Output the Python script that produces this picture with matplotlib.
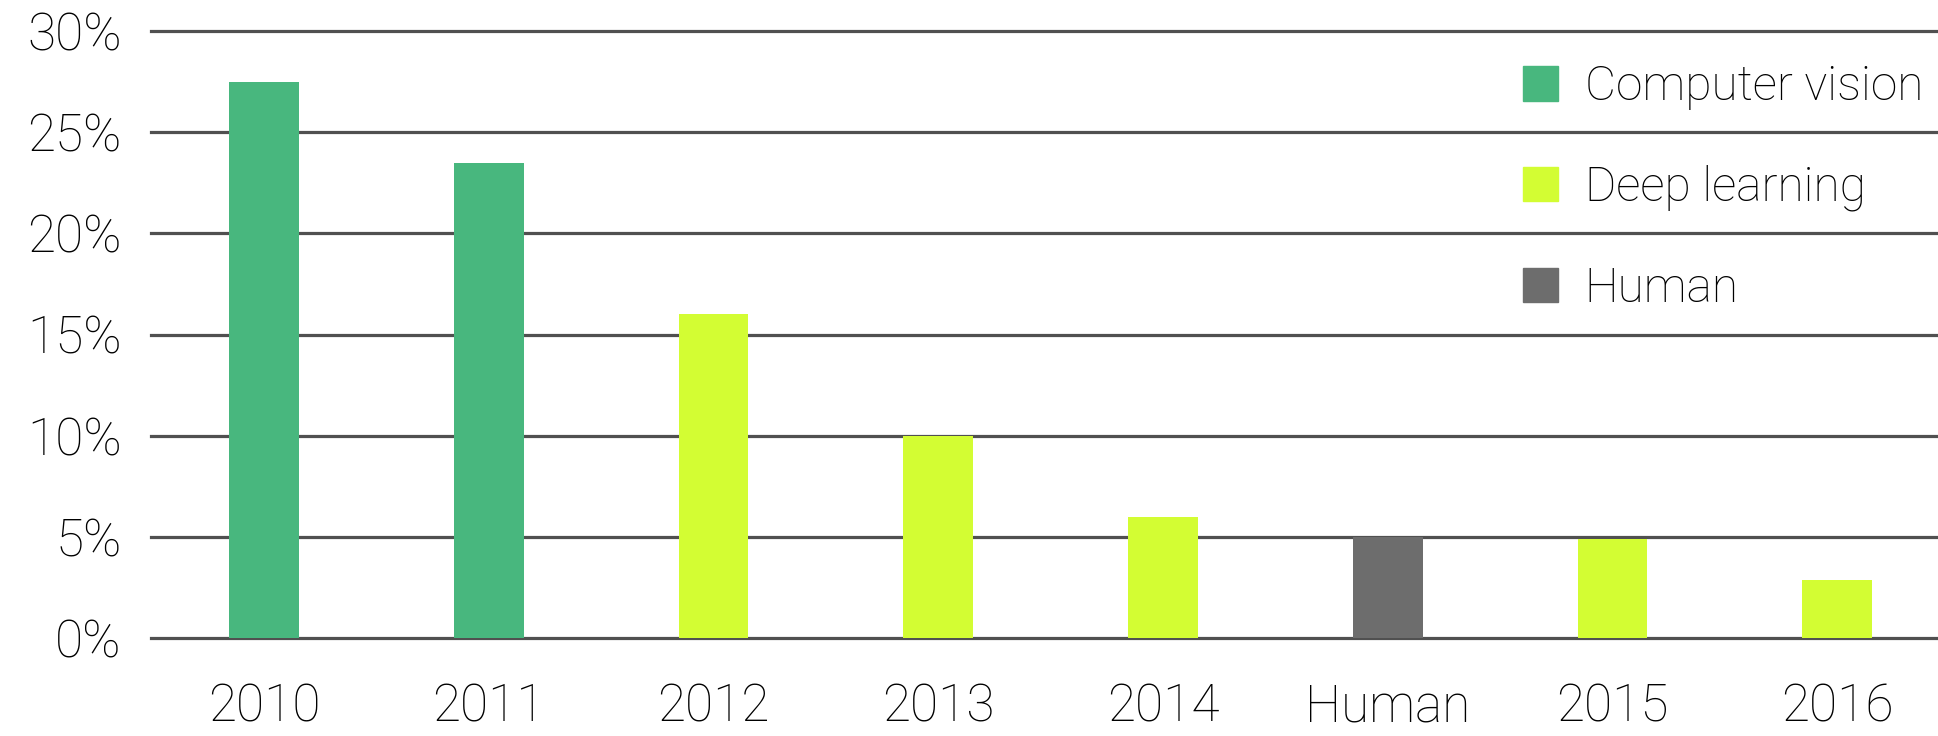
import matplotlib
matplotlib.use("Agg")
import matplotlib.pyplot as plt
from matplotlib.patches import Patch

plt.rcParams['font.family'] = ['Roboto', 'DejaVu Sans']
plt.rcParams['font.weight'] = 'light'

# error rates
labels = ['2010', '2011', '2012', '2013', '2014', 'Human', '2015', '2016']
values = [27.5, 23.5, 16.0, 10.0, 6.0, 5.0, 4.9, 2.85]
kinds = ['cv', 'cv', 'dl', 'dl', 'dl', 'human', 'dl', 'dl']

colors = {'cv': '#48b77e', 'dl': '#d3fd33', 'human': '#6d6d6d'}
names = {'cv': 'Computer vision', 'dl': 'Deep learning', 'human': 'Human'}
yticks = [0, 5, 10, 15, 20, 25, 30]

fig = plt.figure(figsize=(19.38, 7.36), dpi=100)
ax = fig.add_axes([151 / 1938, 98 / 736, 1 - 151 / 1938, (638 - 31) / 736])

x = range(len(labels))
ax.bar(x, values, width=0.31, color=[colors[k] for k in kinds],
       edgecolor='none', zorder=3)

ax.set_ylim(0, 30)
ax.set_xlim(-0.503, 7.448)
ax.set_yticks(yticks)
ax.set_yticklabels([f'{t}%' for t in yticks])
ax.set_xticks(list(x))
ax.set_xticklabels(labels)
ax.tick_params(length=0, labelsize=37, colors='black')
ax.tick_params(axis='y', pad=21)
ax.tick_params(axis='x', pad=32)
for s in ax.spines.values():
    s.set_visible(False)
ax.yaxis.grid(True, color='#505050', linewidth=2.3, zorder=0)
ax.set_axisbelow(True)
for gl in ax.get_ygridlines():
    gl.set_clip_on(False)

handles = [Patch(color=colors[k]) for k in ['cv', 'dl', 'human']]
leg = ax.legend(handles, [names[k] for k in ['cv', 'dl', 'human']],
                loc='upper left', bbox_to_anchor=(1523 / 1938, 1 - 64 / 736),
                bbox_transform=fig.transFigure, frameon=False, fontsize=34.5,
                handlelength=0.73, handleheight=0.73, handletextpad=0.56,
                labelspacing=1.14, borderpad=0, borderaxespad=0)

fig.savefig('out.png', dpi=100)
